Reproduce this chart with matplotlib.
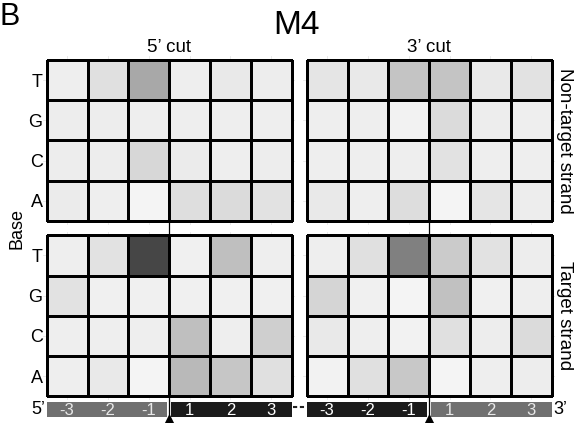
import matplotlib
matplotlib.use("Agg")
import matplotlib.pyplot as plt
import numpy as np
from matplotlib.colors import LinearSegmentedColormap

plt.rcParams["font.family"] = ["Liberation Sans", "DejaVu Sans"]

# --- data ---
BASES = ["T", "G", "C", "A"]
POSITIONS = ["-3", "-2", "-1", "1", "2", "3"]
CUTS = ["5\u2019 cut", "3\u2019 cut"]
STRANDS = ["Non-target strand", "Target strand"]
ENDS = ["5\u2019", "3\u2019"]

# signal per base (rows T, G, C, A) x position (-3 .. 3), scale 0-100
nontarget_5cut = [[4, 12, 44, 4, 7, 5],
                  [5, 5, 4, 4, 4, 4],
                  [5, 5, 17, 6, 4, 5],
                  [6, 4, 1, 13, 15, 11]]
nontarget_3cut = [[9, 7, 28, 28, 7, 11],
                  [4, 4, 2, 15, 5, 4],
                  [4, 4, 4, 11, 4, 4],
                  [7, 4, 14, 1, 9, 5]]
target_5cut = [[4, 11, 100, 3, 31, 4],
               [11, 3, 3, 3, 3, 3],
               [4, 4, 4, 31, 4, 22],
               [4, 7, 1, 34, 27, 12]]
target_3cut = [[4, 12, 67, 24, 11, 5],
               [18, 3, 1, 30, 3, 4],
               [7, 4, 2, 12, 5, 15],
               [2, 12, 26, 1, 4, 5]]

# position bar shading: (upstream of cut, downstream of cut) per cut panel
BAR_SHADES = [["#707070", "#1b1b1b"], ["#1b1b1b", "#707070"]]
BAR_TEXT = {"#707070": "#e8e8e8", "#1b1b1b": "#ffffff"}

# --- layout (pixels) ---
W, H = 576, 423
TILE_X = [46.7, 306.7]
TILE_Y = [60.0, 235.3]
TILE_W, TILE_H = 245.0, 161.0
PAD = 3.5
BAR_Y, BAR_H = 402.3, 14.4
CELL_W = TILE_W / len(POSITIONS)

cmap = LinearSegmentedColormap.from_list("grey", ["#f5f5f5", "#464646"])


def rect(x, y, w, h):
    return [x / W, 1 - (y + h) / H, w / W, h / H]


fig = plt.figure(figsize=(W / 100, H / 100), dpi=100)

panels = [[nontarget_5cut, nontarget_3cut], [target_5cut, target_3cut]]
for r, strand in enumerate(STRANDS):
    for c, cut in enumerate(CUTS):
        ax = fig.add_axes(rect(TILE_X[c] - PAD, TILE_Y[r] - PAD,
                               TILE_W + 2 * PAD, TILE_H + 2 * PAD))
        vals = np.array(panels[r][c], dtype=float)
        xe = np.arange(len(POSITIONS) + 1) - 0.5
        ye = np.arange(len(BASES) + 1) - 0.5
        ax.pcolormesh(xe, ye, vals, cmap=cmap, vmin=0, vmax=100,
                      edgecolors="black", linewidth=0.8, zorder=2)
        px = PAD / CELL_W
        py = PAD / (TILE_H / len(BASES))
        ax.set_xlim(-0.5 - px, len(POSITIONS) - 0.5 + px)
        ax.set_ylim(len(BASES) - 0.5 + py, -0.5 - py)
        ax.set_xticks(range(len(POSITIONS)))
        ax.set_yticks(range(len(BASES)))
        ax.grid(True, color="#e6e6e6", linewidth=0.6, zorder=0)
        ax.set_axisbelow(True)
        for s in ax.spines.values():
            s.set_visible(False)
        ax.tick_params(length=0, labelbottom=False)
        if c == 0:
            ax.set_yticklabels(BASES, fontsize=13)
            ax.tick_params(axis="y", pad=0.5)
        else:
            ax.set_yticklabels([])
        if r == 0:
            ax.set_title(cut, fontsize=13.5, pad=0.5)

# strand labels on the right
for r, strand in enumerate(STRANDS):
    fig.text(565 / W, 1 - (TILE_Y[r] + TILE_H / 2) / H, strand,
             rotation=-90, ha="center", va="center", fontsize=13.5)

# position bars below the panels
for c, cut in enumerate(CUTS):
    bx = fig.add_axes(rect(TILE_X[c], BAR_Y, TILE_W, BAR_H))
    bx.set_xlim(-0.5, len(POSITIONS) - 0.5)
    bx.set_ylim(0, 1)
    bx.axis("off")
    half = len(POSITIONS) // 2
    gaps = [(0.0, 2.4 / CELL_W), (1.8 / CELL_W, 0.0)]
    for k, shade in enumerate(BAR_SHADES[c]):
        lo = k * half - 0.5 + gaps[k][0]
        hi = (k + 1) * half - 0.5 - gaps[k][1]
        bx.barh(0.5, hi - lo, left=lo, height=1.0, color=shade)
        for i in range(k * half, (k + 1) * half):
            bx.text(i, 0.42, POSITIONS[i], ha="center", va="center",
                    fontsize=12, color=BAR_TEXT[shade])

# overlay in pixel coordinates for labels, cut lines and markers
ov = fig.add_axes([0, 0, 1, 1], zorder=10)
ov.set_xlim(0, W)
ov.set_ylim(H, 0)
ov.axis("off")
ov.patch.set_alpha(0)

for c in range(len(CUTS)):
    cx = TILE_X[c] + CELL_W * len(POSITIONS) / 2
    ov.plot([cx, cx], [TILE_Y[0], 418], color="black", linewidth=0.9)
    ov.plot(cx, 419.8, marker="^", markersize=7.5, color="black",
            clip_on=False)

ov.plot([TILE_X[0] + TILE_W + 1, TILE_X[1] - 1],
        [BAR_Y + 4.5, BAR_Y + 4.5], color="#222222", linewidth=1.5,
        linestyle=(0, (2, 1.3)))
ov.text(TILE_X[0] - 2, BAR_Y + BAR_H / 2, ENDS[0], ha="right",
        va="center", fontsize=13)
ov.text(TILE_X[1] + TILE_W + 2, BAR_Y + BAR_H / 2, ENDS[1], ha="left",
        va="center", fontsize=13)

ov.text(17, (TILE_Y[0] + TILE_Y[1] + TILE_H) / 2, "Base", rotation=90,
        ha="center", va="center", fontsize=13)
ov.text(297, 26, "M4", ha="center", va="center", fontsize=24)
ov.text(0, 17, "B", ha="left", va="center", fontsize=22)

fig.savefig("out.png", dpi=100)
